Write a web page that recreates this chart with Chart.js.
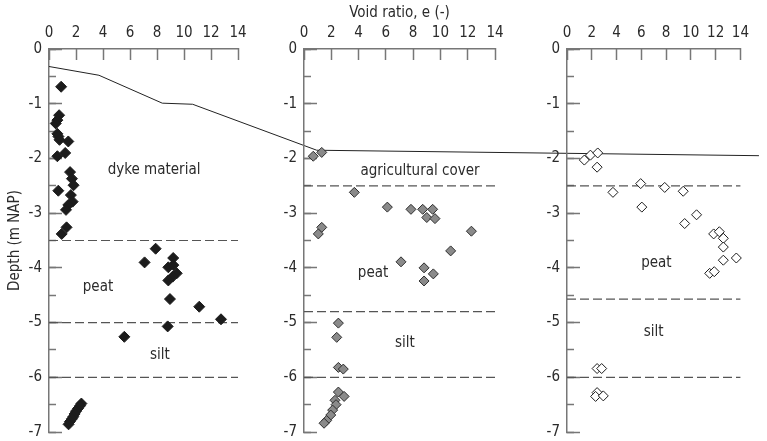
<!DOCTYPE html>
<html>
<head>
<meta charset="utf-8">
<script src="https://cdn.jsdelivr.net/npm/chart.js@4.4.0/dist/chart.umd.min.js"></script>
<style>
  body { margin: 0; background: #fff; }
  #wrap { position: relative; width: 767px; height: 441px; }
  #wrap canvas { position: absolute; left: 0; top: 0; }
</style>
</head>
<body>
<div id="wrap">
  <canvas id="p1" width="767" height="441"></canvas>
  <canvas id="p2" width="767" height="441"></canvas>
  <canvas id="p3" width="767" height="441"></canvas>
</div>
<script>
// void ratio e (-) vs depth (m NAP), one list per profile
const dykePoints = [
  [0.9, -0.69],
  [0.75, -1.21], [0.62, -1.3], [0.5, -1.36],
  [0.62, -1.55], [0.7, -1.6], [0.78, -1.66], [1.43, -1.69],
  [1.2, -1.9], [0.62, -1.96],
  [1.56, -2.25], [1.7, -2.37], [1.82, -2.49], [0.69, -2.59],
  [1.62, -2.67], [1.75, -2.79], [1.43, -2.85], [1.26, -2.94],
  [1.3, -3.26], [0.94, -3.38],
  [7.9, -3.65], [7.08, -3.9], [9.2, -3.82], [8.84, -3.99], [9.21, -3.95],
  [9.46, -4.1], [9.16, -4.16], [8.84, -4.23], [8.96, -4.57],
  [11.13, -4.71], [12.74, -4.94], [8.79, -5.07], [5.58, -5.26],
  [2.4, -6.48], [2.3, -6.52], [2.15, -6.57], [2.0, -6.62], [1.9, -6.67],
  [1.8, -6.72], [1.7, -6.76], [1.55, -6.81], [1.45, -6.86]
];
const polderPoints = [
  [0.68, -1.96], [1.3, -1.89],
  [3.69, -2.62], [6.11, -2.89], [7.84, -2.93], [8.7, -2.93], [9.43, -2.93],
  [9.0, -3.08], [9.6, -3.1], [12.27, -3.33],
  [1.3, -3.26], [1.05, -3.38],
  [10.75, -3.69], [7.11, -3.89], [8.8, -4.0], [9.48, -4.11], [8.8, -4.24],
  [2.52, -5.01], [2.4, -5.27], [2.52, -5.82], [2.88, -5.85],
  [2.52, -6.27], [2.94, -6.35], [2.27, -6.42], [2.35, -6.5], [2.1, -6.6],
  [1.96, -6.69], [1.66, -6.79], [1.47, -6.84]
];
const ditchPoints = [
  [1.4, -2.03], [1.89, -1.94], [2.48, -1.9], [2.43, -2.16],
  [3.71, -2.62], [5.95, -2.46], [6.04, -2.89], [7.89, -2.53], [9.38, -2.6],
  [10.46, -3.03], [9.5, -3.19],
  [11.84, -3.38], [12.3, -3.34], [12.62, -3.46], [12.62, -3.62], [12.62, -3.86],
  [13.67, -3.82], [11.52, -4.1], [11.89, -4.07],
  [2.43, -5.84], [2.8, -5.84],
  [2.43, -6.28], [2.31, -6.35], [2.93, -6.34]
];

// layer boundaries (m NAP)
const dykeLayers = [-3.5, -5.0, -6.0];
const polderLayers = [-2.5, -4.8, -6.0];
const ditchLayers = [-2.5, -4.57, -6.0];

// ground surface, given in the first panel's e units so it runs across all three
const surfaceE = [0, 3.7, 8.39, 10.64, 19.83, 52.59];
const surfaceDepth = [-0.32, -0.48, -0.99, -1.01, -1.85, -1.95];

// layer names: [text, e, depth]
const dykeNames = [['dyke material', 7.78, -2.21], ['peat', 3.63, -4.35], ['silt', 8.22, -5.59]];
const polderNames = [['agricultural cover', 8.5, -2.24], ['peat', 5.06, -4.1], ['silt', 7.4, -5.37]];
const ditchNames = [['peat', 7.22, -3.91], ['silt', 7.0, -5.17]];

const xTicks = [0, 14, 2];   // min, max, step
const yTicks = [-7, 0, 1];

const FONT = { family: '"DejaVu Sans Condensed", "DejaVu Sans", sans-serif', size: 15 };
const TEXT = '#2b2b2b';
const AXIS = '#777';

const toXY = pts => pts.map(p => ({ x: p[0], y: p[1] }));

function makePanel(id, o) {
  const datasets = [{
    data: toXY(o.points),
    showLine: false,
    pointStyle: 'rectRot',
    pointRadius: o.size,
    pointBackgroundColor: o.fill,
    pointBorderColor: o.edge,
    pointBorderWidth: 1
  }];
  o.layers.forEach(z => datasets.push({
    data: [{ x: xTicks[0], y: z }, { x: xTicks[1], y: z }],
    showLine: true,
    borderColor: '#555',
    borderWidth: 1.2,
    borderDash: [9, 4],
    pointRadius: 0
  }));
  if (o.surface) {
    datasets.push({
      data: surfaceE.map((e, i) => ({ x: e, y: surfaceDepth[i] })),
      showLine: true,
      borderColor: '#222',
      borderWidth: 1,
      pointRadius: 0,
      clip: false
    });
  }

  // draws the layer names at data positions
  const namesPlugin = {
    id: 'layerNames',
    afterDatasetsDraw(chart) {
      const { ctx, scales } = chart;
      ctx.save();
      ctx.font = FONT.size + 'px ' + FONT.family;
      ctx.fillStyle = TEXT;
      ctx.textAlign = 'center';
      ctx.textBaseline = 'middle';
      o.names.forEach(n => {
        ctx.fillText(n[0], scales.x.getPixelForValue(n[1]), scales.y.getPixelForValue(n[2]));
      });
      ctx.restore();
    }
  };

  new Chart(document.getElementById(id), {
    type: 'scatter',
    data: { datasets },
    options: {
      responsive: false,
      animation: false,
      events: [],
      layout: { padding: { left: o.left - 49, right: 767 - o.right, top: 0, bottom: 9 } },
      plugins: { legend: { display: false }, tooltip: { enabled: false } },
      scales: {
        x: {
          type: 'linear',
          position: 'top',
          // range set here (not min/max) so the surface line is not cut at e = 14
          afterDataLimits: s => { s.min = xTicks[0]; s.max = xTicks[1]; },
          afterFit: s => { s.height = 49; },
          ticks: { stepSize: xTicks[2], padding: 18, autoSkip: false, maxRotation: 0, color: TEXT, font: FONT },
          grid: { drawOnChartArea: false, tickLength: -11, tickColor: AXIS, tickWidth: 1.5 },
          border: { color: AXIS, width: 1.5 },
          title: { display: !!o.xTitle, text: o.xTitle || '', color: TEXT, font: FONT, padding: { top: 4 } }
        },
        y: {
          type: 'linear',
          position: 'left',
          min: yTicks[0],
          max: yTicks[1],
          // tick padding would otherwise also pad the plot top and bottom
          afterFit: s => { s.width = 49; s.paddingTop = 0; s.paddingBottom = 0; },
          ticks: { stepSize: yTicks[2], padding: 20, autoSkip: false, color: TEXT, font: FONT },
          grid: { drawOnChartArea: false, tickLength: -13, tickColor: AXIS, tickWidth: 1.5 },
          border: { color: AXIS, width: 1.5 },
          title: { display: !!o.yTitle, text: o.yTitle || '', color: TEXT, font: FONT, padding: { top: 6 } }
        },
        // minor ticks every 0.5 m
        ym: {
          type: 'linear',
          axis: 'y',
          position: { x: 0 },
          min: yTicks[0],
          max: yTicks[1],
          ticks: { display: false, stepSize: yTicks[2] / 2 },
          grid: { drawOnChartArea: false, tickLength: -7, tickColor: AXIS, tickWidth: 1.5 },
          border: { display: false }
        }
      }
    },
    plugins: [namesPlugin]
  });
}

makePanel('p1', { points: dykePoints, layers: dykeLayers, names: dykeNames, fill: '#1c1c1c', edge: '#1c1c1c', size: 5.5,
  left: 49, right: 238, surface: true, yTitle: 'Depth (m NAP)' });
makePanel('p2', { points: polderPoints, layers: polderLayers, names: polderNames, fill: '#8a8a8a', edge: '#2e2e2e', size: 5,
  left: 304, right: 495, xTitle: 'Void ratio, e (-)' });
makePanel('p3', { points: ditchPoints, layers: ditchLayers, names: ditchNames, fill: '#ffffff', edge: '#1c1c1c', size: 5,
  left: 567, right: 757 });
</script>
</body>
</html>
